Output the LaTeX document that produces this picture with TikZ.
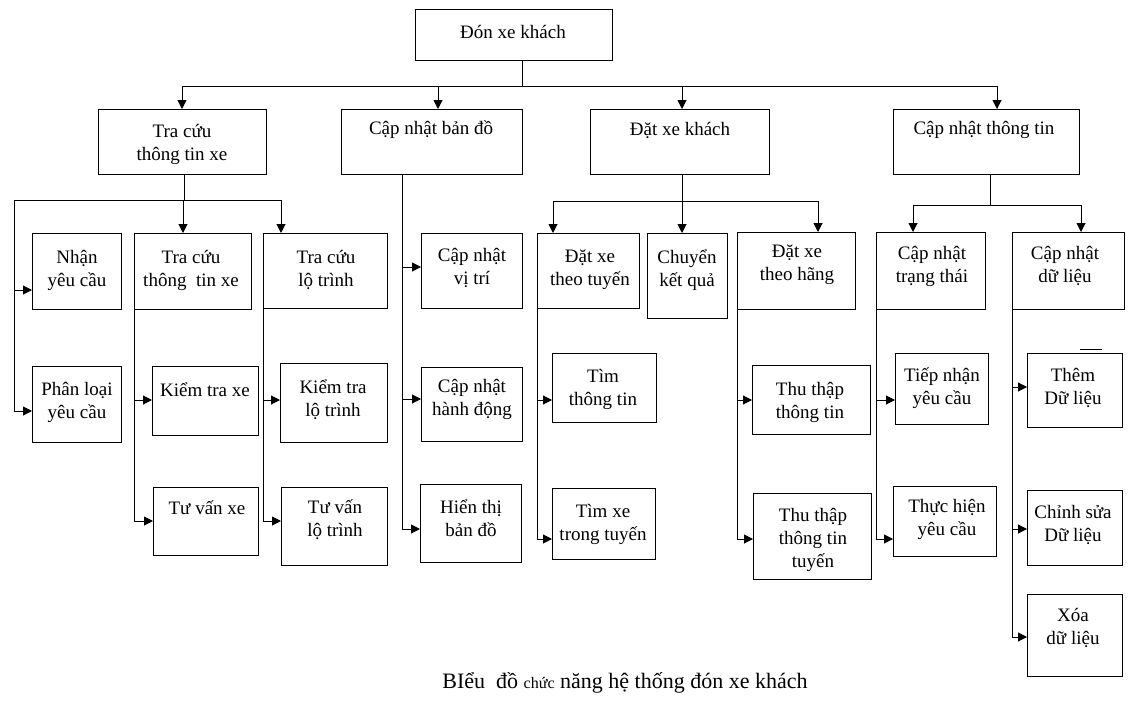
\documentclass[tikz,border=0pt]{standalone}
\usepackage{fontspec}
\setmainfont{Liberation Serif}
\usetikzlibrary{arrows.meta}
\tikzset{
  box/.style={draw, line width=1pt, inner sep=0pt, outer sep=0pt},
  lbl/.style={inner sep=0pt, align=center, font=\fontsize{19}{23}\selectfont},
  conn/.style={line width=1pt},
  arr/.style={line width=1pt, -{Triangle[length=9pt,width=9pt]}},
}
\newcommand\bx[8]{%
  \pgfmathsetmacro\bxw{#4-#2}%
  \pgfmathsetmacro\bxh{#5-#3}%
  \node[box, anchor=north west, minimum width=\bxw pt, minimum height=\bxh pt] (#1) at (#2,#3) {};
  \node[lbl] (#1t) at (#6,#7) {#8};
}
\begin{document}
\begin{tikzpicture}[x=1pt,y=-1pt]
\fill[white] (0,0) rectangle (1132,701);
\useasboundingbox (0,0) rectangle (1132,701);

% level 0
\bx{top}{415}{10}{612}{61}{513}{32}{Đón xe khách}
% level 1
\bx{A}{98}{109}{266}{174}{182}{144}{Tra cứu\\thông tin xe}
\bx{B}{341}{109}{522}{174}{431}{130}{Cập nhật bản đồ}
\bx{C}{590}{109}{769}{174}{680}{130}{Đặt xe khách}
\bx{D}{893}{109}{1079}{174}{984}{130}{Cập nhật thông tin}
% A children
\bx{A1}{32}{233}{121}{309}{77}{270}{Nhận\\yêu cầu}
\bx{A2}{32}{366}{121}{442}{77}{402}{Phân loại\\yêu cầu}
\bx{A3}{134}{233}{251}{309}{191}{270}{Tra cứu\\thông~ tin xe}
\bx{A4}{263}{233}{387}{308}{326}{270}{Tra cứu\\lộ trình}
\bx{A5}{152}{366}{258}{435}{205}{390}{Kiểm tra xe}
\bx{A6}{280}{363}{387}{442}{333}{400}{Kiểm tra\\lộ trình}
\bx{A7}{153}{487}{258}{555}{207}{508}{Tư vấn xe}
\bx{A8}{281}{487}{387}{565}{335}{520}{Tư vấn\\lộ trình}
% B children
\bx{B1}{421}{233}{522}{308}{472}{268}{Cập nhật\\vị trí}
\bx{B2}{421}{367}{522}{441}{472}{399}{Cập nhật\\hành động}
\bx{B3}{420}{484}{521}{562}{471}{518}{Hiển thị\\bản đồ}
% C children
\bx{C1}{537}{233}{639}{308}{590}{270}{Đặt xe\\theo tuyến}
\bx{C2}{647}{233}{727}{318}{687}{270}{Chuyển\\kết quả}
\bx{C3}{737}{232}{855}{309}{797}{265}{Đặt xe\\theo hãng}
\bx{C4}{552}{353}{656}{422}{603}{389}{Tìm\\thông tin}
\bx{C5}{552}{488}{655}{559}{603}{524}{Tìm xe\\trong tuyến}
\bx{C6}{752}{365}{870}{434}{810}{402}{Thu thập\\thông tin}
\bx{C7}{753}{493}{871}{579}{813}{540}{Thu thập\\thông tin\\tuyến}
% D children
\bx{D1}{876}{232}{985}{309}{932}{266}{Cập nhật\\trạng thái}
\bx{D2}{1012}{232}{1124}{309}{1065}{266}{Cập nhật\\dữ liệu}
\bx{D3}{895}{353}{988}{424}{942}{388}{Tiếp nhận\\yêu cầu}
\bx{D4}{893}{486}{996}{556}{947}{519}{Thực hiện\\yêu cầu}
\bx{D5}{1027}{353}{1122}{427}{1073}{388}{Thêm\\Dữ liệu}
\bx{D6}{1027}{490}{1122}{565}{1073}{525}{Chỉnh sửa\\Dữ liệu}
\bx{D7}{1027}{594}{1122}{676}{1073}{628}{Xóa\\dữ liệu}

% ---- level 0 -> level 1
\coordinate (j0) at (522,86);
\coordinate (b0l) at (182,86);
\coordinate (b0r) at (997,86);
\coordinate (aB) at (438,86);
\coordinate (aC) at (682,86);
\draw[conn] (top.south -| j0) -- (j0);
\draw[conn] (b0l) -- (b0r);
\draw[arr] (b0l) -- (b0l |- A.north);
\draw[arr] (aB) -- (aB |- B.north);
\draw[arr] (aC) -- (aC |- C.north);
\draw[arr] (b0r) -- (b0r |- D.north);

% ---- A subtree
\coordinate (jA) at (184,200);
\coordinate (bAl) at (14,200);
\coordinate (bAr) at (281,200);
\coordinate (aA3) at (183,200);
\draw[conn] (A.south -| jA) -- (jA);
\draw[conn] (bAl) -- (bAr);
\draw[arr] (aA3) -- (aA3 |- A3.north);
\draw[arr] (bAr) -- (bAr |- A4.north);
\coordinate (pA1) at (14,290);
\coordinate (pA2) at (14,411);
\draw[conn] (bAl) -- (pA2);
\draw[arr] (pA1) -- (pA1 -| A1.west);
\draw[arr] (pA2) -- (pA2 -| A2.west);
\coordinate (pA5) at (134,400);
\coordinate (pA7) at (134,521);
\draw[conn] (A3.south west) -- (pA7);
\draw[arr] (pA5) -- (pA5 -| A5.west);
\draw[arr] (pA7) -- (pA7 -| A7.west);
\coordinate (pA6) at (263,400);
\coordinate (pA8) at (263,521);
\draw[conn] (A4.south west) -- (pA8);
\draw[arr] (pA6) -- (pA6 -| A6.west);
\draw[arr] (pA8) -- (pA8 -| A8.west);

% ---- B subtree
\coordinate (pB1) at (402,267);
\coordinate (pB2) at (402,399);
\coordinate (pB3) at (402,529);
\draw[conn] (B.south -| pB1) -- (pB3);
\draw[arr] (pB1) -- (pB1 -| B1.west);
\draw[arr] (pB2) -- (pB2 -| B2.west);
\draw[arr] (pB3) -- (pB3 -| B3.west);

% ---- C subtree
\coordinate (jC) at (682,201);
\coordinate (bCl) at (553,201);
\coordinate (bCr) at (818,201);
\draw[conn] (C.south -| jC) -- (jC);
\draw[conn] (bCl) -- (bCr);
\draw[arr] (bCl) -- (bCl |- C1.north);
\draw[arr] (jC) -- (jC |- C2.north);
\draw[arr] (bCr) -- (bCr |- C3.north);
\coordinate (pC4) at (537,400);
\coordinate (pC5) at (537,539);
\draw[conn] (C1.south west) -- (pC5);
\draw[arr] (pC4) -- (pC4 -| C4.west);
\draw[arr] (pC5) -- (pC5 -| C5.west);
\coordinate (pC6) at (737,400);
\coordinate (pC7) at (737,539);
\draw[conn] (C3.south west) -- (pC7);
\draw[arr] (pC6) -- (pC6 -| C6.west);
\draw[arr] (pC7) -- (pC7 -| C7.west);

% ---- D subtree
\coordinate (jD) at (990,205);
\coordinate (bDl) at (913,205);
\coordinate (bDr) at (1081,205);
\draw[conn] (D.south -| jD) -- (jD);
\draw[conn] (bDl) -- (bDr);
\draw[arr] (bDl) -- (bDl |- D1.north);
\draw[arr] (bDr) -- (bDr |- D2.north);
\coordinate (pD3) at (876,400);
\coordinate (pD4) at (876,539);
\draw[conn] (D1.south west) -- (pD4);
\draw[arr] (pD3) -- (pD3 -| D3.west);
\draw[arr] (pD4) -- (pD4 -| D4.west);
\coordinate (pD5) at (1012,387);
\coordinate (pD6) at (1012,529);
\coordinate (pD7) at (1012,637);
\draw[conn] (D2.south west) -- (pD7);
\draw[arr] (pD5) -- (pD5 -| D5.west);
\draw[arr] (pD6) -- (pD6 -| D6.west);
\draw[arr] (pD7) -- (pD7 -| D7.west);

% stray short line above "Thêm Dữ liệu"
\coordinate (s1) at (1080,349);
\coordinate (s2) at (1102,349);
\draw[conn] (s1) -- (s2);

% caption
\node[inner sep=0pt, font=\fontsize{22}{26}\selectfont] (cap) at (625,683) {BIểu~ đồ {\fontsize{16}{18}\selectfont chức} năng hệ thống đón xe khách};
\end{tikzpicture}
\end{document}
